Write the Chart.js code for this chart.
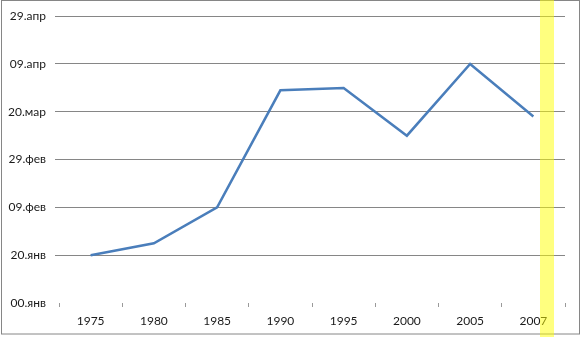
<!DOCTYPE html>
<html>
<head>
<meta charset="utf-8">
<script src="https://cdn.jsdelivr.net/npm/chart.js@4.4.0/dist/chart.umd.min.js"></script>
<style>
    html, body { margin: 0; padding: 0; background: #ffffff; }
    #dateChart { display: block; }
</style>
</head>
<body>
<canvas id="dateChart" width="581" height="337"></canvas>
<script>
// Years on the category axis
const years = ['1975', '1980', '1985', '1990', '1995', '2000', '2005', '2007'];
// Day of year (0 = 00.янв)
const dayValues = [20, 25, 40, 89, 90, 70, 100, 78];
// Y tick labels, one per 20 days
const yTickLabels = ['00.янв', '20.янв', '09.фев', '29.фев', '20.мар', '09.апр', '29.апр'];

const gridColor = '#868686';
const textColor = '#1a1a1a';

// Frame around the whole picture and the yellow highlight band
const framePlugin = {
    id: 'frame',
    beforeDraw(chart) {
        const ctx = chart.ctx;
        ctx.save();
        ctx.fillStyle = '#ffffff';
        ctx.fillRect(0, 0, chart.width, chart.height);
        ctx.strokeStyle = gridColor;
        ctx.lineWidth = 1;
        ctx.strokeRect(1.5, 0.5, 578, 333.5);
        ctx.restore();
    },
    afterDraw(chart) {
        const ctx = chart.ctx;
        ctx.save();
        ctx.fillStyle = 'rgba(255, 255, 0, 0.5)';
        ctx.fillRect(540, 0, 14, chart.height);
        ctx.restore();
    }
};

const ctx = document.getElementById('dateChart').getContext('2d');
const dateChart = new Chart(ctx, {
    type: 'line',
    data: {
        labels: years,
        datasets: [{
            data: dayValues,
            borderColor: '#4a7ebb',
            borderWidth: 2.5,
            pointRadius: 0,
            tension: 0,
            fill: false
        }]
    },
    options: {
        responsive: false,
        animation: false,
        devicePixelRatio: 1,
        layout: {
            padding: { top: 15, right: 16, left: 0, bottom: 0 }
        },
        plugins: {
            legend: { display: false },
            tooltip: { enabled: false }
        },
        scales: {
            x: {
                offset: true,
                border: { display: false },
                grid: {
                    offset: true,
                    drawOnChartArea: false,
                    drawTicks: true,
                    tickLength: 4,
                    color: '#9a9a9a'
                },
                ticks: {
                    color: textColor,
                    padding: 7,
                    maxRotation: 0,
                    font: { family: 'Lato', size: 12 }
                },
                afterFit(scale) { scale.height = 34; }
            },
            y: {
                min: 0,
                max: 120,
                border: { display: false },
                grid: {
                    color: (c) => (c.tick && c.tick.value === 0) ? 'rgba(0,0,0,0)' : gridColor,
                    drawTicks: true,
                    tickLength: 4
                },
                ticks: {
                    stepSize: 20,
                    color: textColor,
                    padding: 9,
                    font: { family: 'Lato', size: 12 },
                    callback: (value) => yTickLabels[value / 20]
                },
                afterFit(scale) { scale.width = 59; }
            }
        }
    },
    plugins: [framePlugin]
});
</script>
</body>
</html>
